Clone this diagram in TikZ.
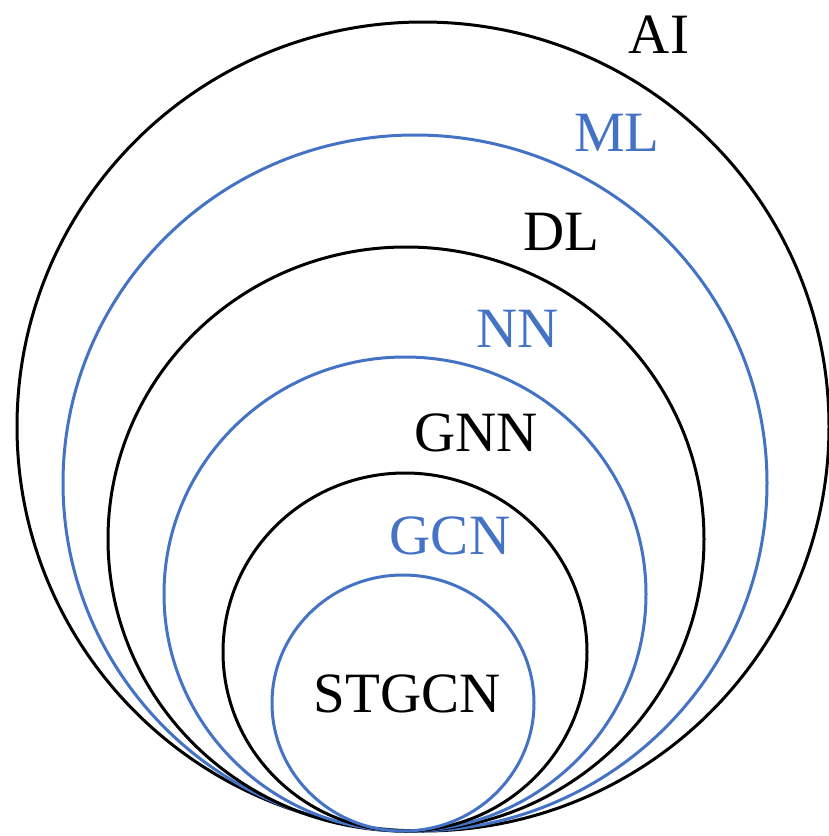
\documentclass[tikz,border=0pt]{standalone}
\usepackage{fontspec}
\setmainfont{Liberation Serif}

\definecolor{ringblue}{RGB}{68,114,196}

\begin{document}
\begin{tikzpicture}[x=1pt,y=-1pt,
    ring/.style={line width=3pt},
    lbl/.style={inner sep=0pt,font=\fontsize{57}{60}\selectfont}]
  \useasboundingbox (0,0) rectangle (829,836);

  % nested sets, all touching at the bottom
  \foreach \cx/\cy/\rx/\ry/\col in {423/426.5/406/404.5/black,
      415/483/352/348/ringblue, 406/539/298/292/black,
      405/594/241/237/ringblue, 405/652/182/179/black,
      403/703/131/128/ringblue}
    \draw[ring,\col] (\cx,\cy) ellipse [x radius=\rx, y radius=\ry];

  % set names
  \node[lbl] (ai) at (659,35) {AI};
  \node[lbl,ringblue] (ml) at (617,133) {ML};
  \node[lbl] (dl) at (561,232) {DL};
  \node[lbl,ringblue] (nn) at (518,329) {NN};
  \node[lbl] (gnn) at (476,433) {GNN};
  \node[lbl,ringblue] (gcn) at (450,536) {GCN};
  \node[lbl] (stgcn) at (407,694) {STGCN};
\end{tikzpicture}
\end{document}
